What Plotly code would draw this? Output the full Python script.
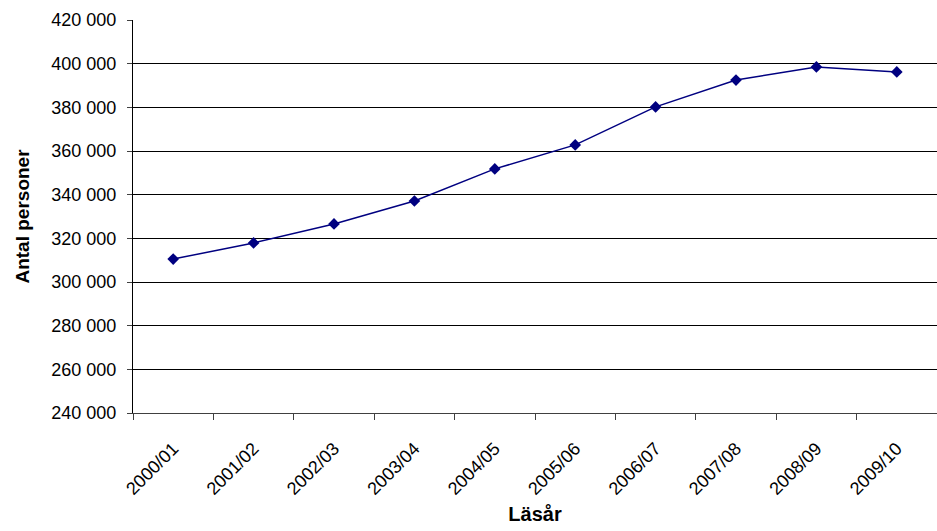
import plotly.graph_objects as go

categories = ["2000/01", "2001/02", "2002/03", "2003/04", "2004/05",
              "2005/06", "2006/07", "2007/08", "2008/09", "2009/10"]
values = [310500, 317900, 326600, 337100, 351800,
          362800, 380200, 392500, 398500, 396200]

x_title = "Läsår"
y_title = "Antal personer"

fig = go.Figure()
fig.add_trace(go.Scatter(
    x=categories, y=values, mode="lines+markers",
    line=dict(color="#000080", width=1.5),
    marker=dict(symbol="diamond", size=9, color="#000080"),
    showlegend=False,
))

font_family = "Liberation Sans, Arial, sans-serif"

fig.update_layout(
    width=937, height=531,
    margin=dict(l=133, r=0, t=20, b=118),
    paper_bgcolor="white", plot_bgcolor="white",
    separators=", ",
    font=dict(family=font_family, size=17, color="black"),
)
fig.update_xaxes(
    type="category",
    range=[-0.5, len(categories) - 0.5],
    tickangle=-45,
    tickson="boundaries",
    ticks="outside", ticklen=6, tickcolor="#404040",
    showline=True, linecolor="#404040", linewidth=1,
    showgrid=False,
    tickfont=dict(size=18),
    ticklabelstandoff=17,
    title=dict(text="<b>" + x_title + "</b>", font=dict(size=20), standoff=9),
)
fig.update_yaxes(
    range=[240000, 420000],
    dtick=20000,
    tickformat=",d",
    ticks="outside", ticklen=5, tickcolor="#404040",
    showline=True, linecolor="black", linewidth=1,
    showgrid=True, gridcolor="black", gridwidth=1,
    zeroline=False,
    tickfont=dict(size=18),
    ticklabelstandoff=7,
    title=dict(text="<b>" + y_title + "</b>", font=dict(size=19), standoff=16),
)

fig.write_html(
    "out.html",
    config={"displayModeBar": False},
    post_script="document.body.style.margin='0';document.body.style.overflow='hidden';",
)
